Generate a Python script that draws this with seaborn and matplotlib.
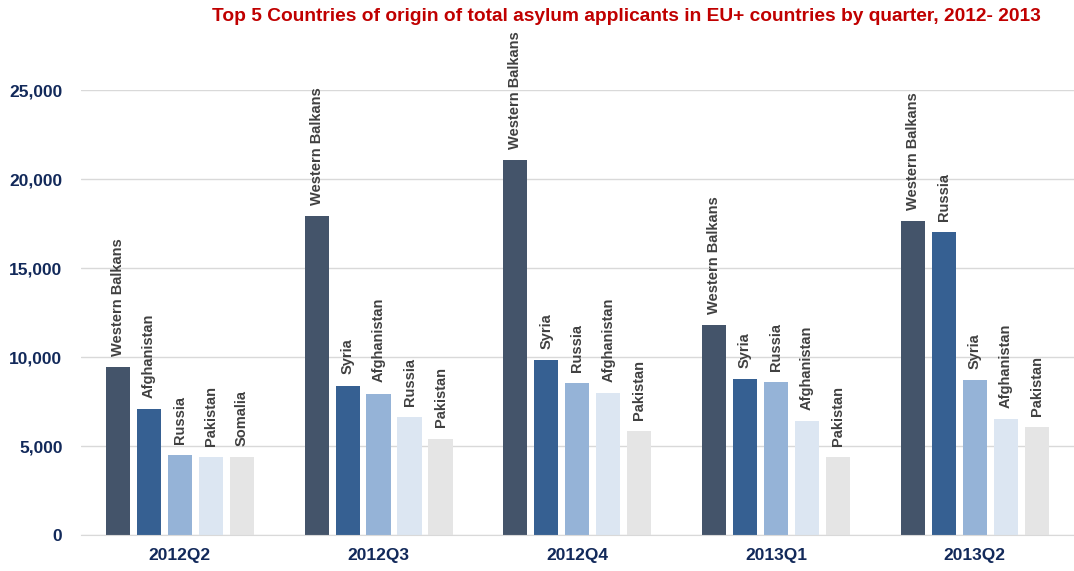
import pandas as pd
import matplotlib.pyplot as plt
import seaborn as sns

# quarters on the x axis
quarters = ['2012Q2', '2012Q3', '2012Q4', '2013Q1', '2013Q2']

# top 5 origins per quarter (rank order) and applicants
origins_2012Q2 = ['Western Balkans', 'Afghanistan', 'Russia', 'Pakistan', 'Somalia']
values_2012Q2 = [9420, 7090, 4510, 4400, 4360]

origins_2012Q3 = ['Western Balkans', 'Syria', 'Afghanistan', 'Russia', 'Pakistan']
values_2012Q3 = [17910, 8400, 7950, 6640, 5420]

origins_2012Q4 = ['Western Balkans', 'Syria', 'Russia', 'Afghanistan', 'Pakistan']
values_2012Q4 = [21080, 9830, 8540, 7970, 5840]

origins_2013Q1 = ['Western Balkans', 'Syria', 'Russia', 'Afghanistan', 'Pakistan']
values_2013Q1 = [11780, 8760, 8610, 6420, 4360]

origins_2013Q2 = ['Western Balkans', 'Russia', 'Syria', 'Afghanistan', 'Pakistan']
values_2013Q2 = [17650, 17020, 8700, 6500, 6050]

rank_colors = ['#44546A', '#366092', '#95B3D7', '#DCE6F2', '#E5E5E5']

all_origins = [origins_2012Q2, origins_2012Q3, origins_2012Q4, origins_2013Q1, origins_2013Q2]
all_values = [values_2012Q2, values_2012Q3, values_2012Q4, values_2013Q1, values_2013Q2]

rows = []
for q, origs, vals in zip(quarters, all_origins, all_values):
    for rank, (o, v) in enumerate(zip(origs, vals), 1):
        rows.append({'quarter': q, 'rank': rank, 'origin': o, 'applicants': v})
df = pd.DataFrame(rows)

sns.set_style('white')
plt.rcParams['font.family'] = ['Liberation Sans', 'DejaVu Sans']

fig = plt.figure(figsize=(10.74, 5.71), dpi=100)
ax = fig.add_axes([0.075, 0.063, 0.925, 0.779])

sns.barplot(data=df, x='quarter', y='applicants', hue='rank', order=quarters,
            palette=rank_colors, width=0.78, gap=0.22, legend=False,
            saturation=1, linewidth=0, ax=ax)

# country labels above each bar
for rank, container in enumerate(ax.containers):
    for q_idx, bar in enumerate(container):
        label = all_origins[q_idx][rank]
        ax.annotate(label, (bar.get_x() + bar.get_width() / 2, bar.get_height()),
                    xytext=(0, 8), textcoords='offset points', rotation=90,
                    ha='center', va='bottom', fontsize=10.5, fontweight='bold',
                    color='#404040', annotation_clip=False)

ax.set_ylim(0, 25000)
ax.set_xlim(-0.5, 4.5)
ax.set_yticks(range(0, 25001, 5000))
ax.set_yticklabels([f'{t:,}' for t in range(0, 25001, 5000)])
ax.yaxis.grid(True, color='#D9D9D9', linewidth=1)
ax.set_axisbelow(True)
for s in ['top', 'right', 'left']:
    ax.spines[s].set_visible(False)
ax.spines['bottom'].set_color('#D9D9D9')
ax.tick_params(axis='y', length=0, labelsize=12.5, labelcolor='#12295A', pad=13)
ax.tick_params(axis='x', length=0, labelsize=12.5, labelcolor='#12295A', pad=9)
for t in ax.get_xticklabels() + ax.get_yticklabels():
    t.set_fontweight('bold')
ax.set_xlabel('')
ax.set_ylabel('')

fig.text(0.583, 0.971, 'Top 5 Countries of origin of total asylum applicants in EU+ countries by quarter, 2012- 2013',
         ha='center', va='center', fontsize=13.8, fontweight='bold', color='#C00000')

plt.savefig('out.png', dpi=100)
